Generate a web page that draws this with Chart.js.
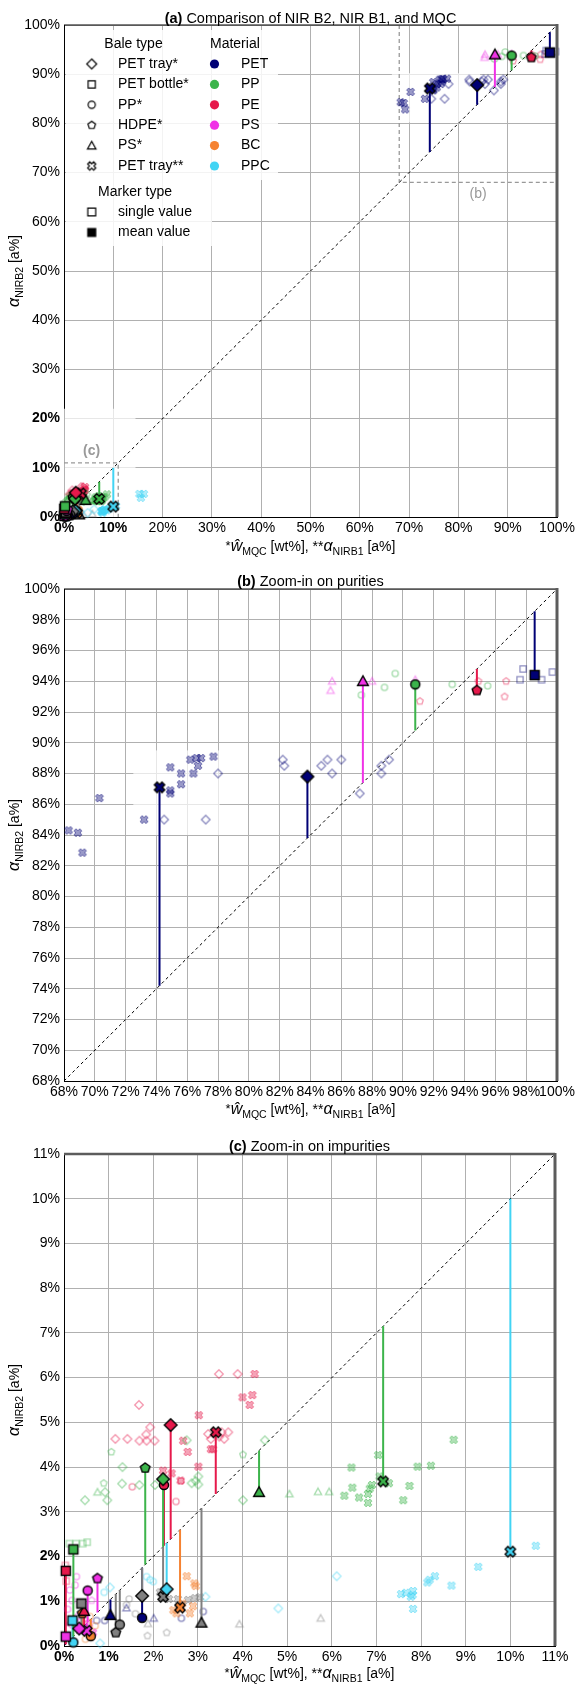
<!DOCTYPE html>
<html>
<head>
<meta charset="utf-8">
<script src="https://cdn.jsdelivr.net/npm/chart.js@4.4.1/dist/chart.umd.min.js"></script>
<style>
  html, body { margin: 0; padding: 0; background: #fff; }
  canvas { display: block; }
</style>
</head>
<body>
<canvas id="chartA" width="575" height="561"></canvas>
<canvas id="chartB" width="575" height="561"></canvas>
<canvas id="chartC" width="575" height="562"></canvas>
<script>
const FONT = '"Liberation Sans", Arial, Helvetica, sans-serif';
Chart.defaults.font.family = FONT;

// legend categories
const baleTypes = ['PET tray*', 'PET bottle*', 'PP*', 'HDPE*', 'PS*', 'PET tray**'];
const baleKeys = ['tray', 'bottle', 'pp', 'hdpe', 'ps', 'tray2'];
const baleShapes = ['diamond', 'square', 'circle', 'pentagon', 'triangle', 'xmark'];
const materials = ['PET', 'PP', 'PE', 'PS', 'BC', 'PPC'];
const materialColors = ['#000075', '#3cb44b', '#e6194b', '#f032e6', '#f58231', '#42d4f4'];
const otherColor = '#808080';

// single values [x, y] in %
const petTray2PET = [[68.3,84.3],[68.9,84.15],[69.2,82.85],[70.3,86.4],[73.2,85.0],[74.9,88.4],[74.9,86.7],[74.9,86.9],[75.6,87.3],[75.6,88.0],[76.4,88.0],[76.2,88.9],[76.6,89.0],[76.9,89.0],[76.7,88.5],[77.7,89.1]];
const petTrayPET = [[74.5,85.0],[77.2,85.0],[78.0,88.0],[82.2,88.9],[82.3,88.5],[84.7,88.5],[85.1,88.9],[85.4,88.0],[86.0,88.9],[87.2,86.7],[88.6,88.0],[88.6,88.5],[89.1,88.9]];
const petBottlePET = [[97.6,94.1],[97.8,94.8],[99.0,94.1],[99.7,94.6]];
const ppBalePP = [[87.3,93.1],[88.8,93.6],[89.5,94.5],[93.2,93.8],[95.5,93.7]];
const hdpeBalePE = [[91.1,92.7],[94.9,94.0],[96.7,94.0],[96.6,93.0]];
const psBalePS = [[85.4,94.0],[85.3,93.4],[88.0,94.0],[90.8,94.1]];

const petTrayPP = [[1.31,4.0],[1.30,3.63],[0.92,3.44],[0.47,3.26],[0.97,3.26],[1.69,3.6],[2.04,3.6],[2.75,4.6],[4.5,4.6],[3.01,3.79],[2.95,3.69],[2.86,3.64],[3.01,3.61],[4.01,3.26]];
const hdpeBalePP = [[1.06,4.34],[0.89,3.64],[4.01,4.28]];
const psBalePP = [[0.75,3.44],[5.05,3.40],[5.69,3.45],[5.94,3.45]];
const petTray2PP = [[6.44,3.99],[6.46,3.54],[6.28,3.36],[6.61,3.32],[6.81,3.40],[6.81,3.20],[6.85,3.52],[6.90,3.60],[7.04,4.27],[7.07,3.79],[7.28,3.64],[7.74,3.58],[7.60,3.26],[7.92,4.01],[8.22,4.03],[8.73,4.61]];
const petBottlePP = [[0.12,2.29],[0.27,2.29],[0.42,2.29],[0.52,2.32]];
const petTrayPE = [[1.68,5.39],[1.15,4.63],[1.42,4.63],[1.69,4.59],[1.85,4.59],[1.84,4.73],[1.93,4.89],[2.03,4.59],[3.47,6.08],[3.89,6.08],[3.23,4.74],[3.29,4.63],[3.53,4.78],[3.68,4.78],[3.59,4.63],[3.48,4.68]];
const petTray2PE = [[4.27,6.08],[4.0,5.56],[4.22,5.61],[4.16,5.39],[3.02,5.16],[2.67,4.59],[2.77,4.34],[3.29,4.40],[3.34,4.40],[3.01,4.01],[2.22,3.92],[2.41,3.86],[2.61,3.70]];
const ppBalePE = [[1.53,3.56],[2.62,3.69],[2.51,3.23]];
const petBottlePE = [[0.03,1.80],[0.05,1.45]];
const ppBalePS = [[0.25,1.36],[0.13,1.25],[0.28,1.55],[0.18,1.02],[0.08,0.82]];
const hdpeBalePS = [[0.62,1.02],[0.35,0.55]];
const petTrayPS = [[0.15,0.50],[0.30,0.65]];
const petTray2PS = [[0.55,0.50],[0.65,0.30]];
const petTray2BC = [[2.75,1.56],[2.92,1.40],[2.95,1.34],[2.82,0.73],[2.52,0.73],[2.89,0.89],[2.45,0.80],[2.65,0.95]];
const ppBaleBC = [[0.58,0.66],[0.70,0.45],[0.48,0.15]];
const hdpeBaleBC = [[0.45,0.50],[0.62,0.32]];
const petTray2PPC = [[7.55,1.16],[7.66,1.19],[7.77,1.10],[7.82,1.23],[7.81,1.14],[7.82,0.83],[8.14,1.42],[8.19,1.48],[8.31,1.56],[8.68,1.35],[9.28,1.77],[10.57,2.24],[15.3,4.7],[16.2,4.7],[15.6,3.9]];
const petTrayPPC = [[6.11,1.56],[4.80,0.84],[3.17,1.10],[1.03,1.31],[0.81,0.06]];
const ppBalePPC = [[1.85,1.55],[1.93,1.48],[2.0,1.44],[0.9,1.2]];
const ppBalePET = [[0.91,0.57],[0.73,0.57],[2.63,0.62],[3.12,0.77]];
const psBalePET = [[1.40,0.85],[2.01,0.62]];
const psBaleOther = [[5.75,0.62],[3.93,0.49],[1.88,0.50]];
const petTray2Other = [[2.78,1.03],[2.93,1.07],[3.04,1.09],[2.35,1.05],[2.55,1.05],[2.15,1.20]];
const ppBaleOther = [[1.46,1.05],[1.40,0.92],[1.60,0.72]];
const hdpeBaleOther = [[1.87,0.23],[2.30,0.30]];

const singleSeries = [
  ['PET','tray2',petTray2PET], ['PET','tray',petTrayPET], ['PET','bottle',petBottlePET],
  ['PP','pp',ppBalePP], ['PE','hdpe',hdpeBalePE], ['PS','ps',psBalePS],
  ['PP','tray',petTrayPP], ['PP','hdpe',hdpeBalePP], ['PP','ps',psBalePP], ['PP','tray2',petTray2PP], ['PP','bottle',petBottlePP],
  ['PE','tray',petTrayPE], ['PE','tray2',petTray2PE], ['PE','pp',ppBalePE], ['PE','bottle',petBottlePE],
  ['PS','pp',ppBalePS], ['PS','hdpe',hdpeBalePS], ['PS','tray',petTrayPS], ['PS','tray2',petTray2PS],
  ['BC','tray2',petTray2BC], ['BC','pp',ppBaleBC], ['BC','hdpe',hdpeBaleBC],
  ['PPC','tray2',petTray2PPC], ['PPC','tray',petTrayPPC], ['PPC','pp',ppBalePPC],
  ['PET','pp',ppBalePET], ['PET','ps',psBalePET],
  ['Other','ps',psBaleOther], ['Other','tray2',petTray2Other], ['Other','pp',ppBaleOther], ['Other','hdpe',hdpeBaleOther]
];

// mean values [material, bale, x, y]
const purityMeans = [
  ['PET','tray',83.8,87.8], ['PET','tray2',74.2,87.1], ['PET','bottle',98.55,94.4],
  ['PP','pp',90.8,93.8], ['PE','hdpe',94.8,93.4], ['PS','ps',87.4,94.0]
];
const impurityMeans = [
  ['PE','tray',2.39,4.94], ['PP','tray',2.22,3.73], ['PE','pp',2.24,3.60], ['PP','hdpe',1.82,3.98],
  ['PE','tray2',3.40,4.78], ['PP','ps',4.37,3.44], ['PP','tray2',7.15,3.68], ['PPC','tray2',10.0,2.11],
  ['PP','bottle',0.21,2.16], ['PE','bottle',0.04,1.68], ['PS','hdpe',0.75,1.51], ['PS','pp',0.53,1.24],
  ['Other','bottle',0.39,0.95], ['PE','ps',0.45,0.78], ['BC','hdpe',0.41,0.73], ['PPC','bottle',0.19,0.57],
  ['PS','tray',0.34,0.39], ['PS','tray2',0.51,0.34], ['BC','pp',0.60,0.22], ['PS','bottle',0.04,0.21],
  ['PPC','pp',0.21,0.08], ['PET','ps',1.04,0.69], ['Other','pp',1.25,0.48], ['Other','hdpe',1.16,0.30],
  ['Other','tray',1.75,1.12], ['PET','pp',1.75,0.63], ['PPC','tray',2.30,1.27], ['Other','tray2',2.22,1.10],
  ['BC','tray2',2.60,0.86], ['Other','ps',3.08,0.52]
];
const allMeans = purityMeans.concat(impurityMeans);

function colorOf(mat) { return mat === 'Other' ? otherColor : materialColors[materials.indexOf(mat)]; }
function shapeOf(bale) { return baleShapes[baleKeys.indexOf(bale)]; }
function hexA(hex, a) {
  const n = parseInt(hex.slice(1), 16);
  return `rgba(${n >> 16},${(n >> 8) & 255},${n & 255},${a})`;
}

function shapePath(g, shape, r, cx, cy) {
  g.beginPath();
  if (shape === 'circle') {
    g.arc(cx, cy, r * 0.72, 0, Math.PI * 2);
  } else if (shape === 'square') {
    const h = r * 0.72;
    g.rect(cx - h, cy - h, 2 * h, 2 * h);
  } else if (shape === 'diamond') {
    g.moveTo(cx, cy - r); g.lineTo(cx + r, cy); g.lineTo(cx, cy + r); g.lineTo(cx - r, cy);
    g.closePath();
  } else if (shape === 'triangle') {
    const h = r * 0.85;
    g.moveTo(cx, cy - h); g.lineTo(cx + h, cy + h * 0.8); g.lineTo(cx - h, cy + h * 0.8);
    g.closePath();
  } else if (shape === 'pentagon') {
    const h = r * 0.8;
    for (let k = 0; k < 5; k++) {
      const a = -Math.PI / 2 + k * 2 * Math.PI / 5;
      const px = cx + h * Math.cos(a), py = cy + h * Math.sin(a);
      if (k === 0) g.moveTo(px, py); else g.lineTo(px, py);
    }
    g.closePath();
  } else if (shape === 'xmark') {
    const h = r * 0.85, w = h * 0.36;
    const pts = [[w,-h],[w,-w],[h,-w],[h,w],[w,w],[w,h],[-w,h],[-w,w],[-h,w],[-h,-w],[-w,-w],[-w,-h]];
    const c = Math.SQRT1_2;
    pts.forEach(([px, py], k) => {
      const rx = cx + (px - py) * c, ry = cy + (px + py) * c;
      if (k === 0) g.moveTo(rx, ry); else g.lineTo(rx, ry);
    });
    g.closePath();
  }
}

const markCache = {};
function mark(shape, r, fill, stroke, lw) {
  const key = [shape, r, fill, stroke, lw].join('|');
  if (markCache[key]) return markCache[key];
  const s = Math.ceil(2 * r + 2 * lw + 2);
  const c = document.createElement('canvas');
  c.width = c.height = s;
  const g = c.getContext('2d');
  shapePath(g, shape, r, s / 2, s / 2);
  if (fill) { g.fillStyle = fill; g.fill(); }
  if (stroke) { g.strokeStyle = stroke; g.lineWidth = lw; g.stroke(); }
  markCache[key] = c;
  return c;
}
function fadedMark(shape, col) {
  if (shape === 'xmark') return mark(shape, 4.8, hexA(col, 0.4), hexA(col, 0.55), 1);
  return mark(shape, 4.3, null, hexA(col, 0.45), 1.3);
}
function meanMark(shape, col) { return mark(shape, 6.3, col, '#000', 1.4); }

function buildDatasets(lo, hi) {
  const ds = [{
    type: 'line', data: [{x: lo, y: lo}, {x: hi, y: hi}],
    borderColor: '#000', borderWidth: 1, borderDash: [3, 3], pointRadius: 0, order: 4
  }];
  singleSeries.forEach(([mat, bale, pts]) => {
    const img = fadedMark(shapeOf(bale), colorOf(mat));
    ds.push({
      type: 'scatter', data: pts.map(p => ({x: p[0], y: p[1]})),
      pointStyle: img, pointRadius: img.width / 2, clip: false, order: 3
    });
  });
  allMeans.forEach(([mat, bale, x, y]) => {
    ds.push({
      type: 'line', data: [{x: x, y: y}, {x: x, y: x}],
      borderColor: colorOf(mat), borderWidth: 2, pointRadius: 0, order: 2
    });
  });
  allMeans.forEach(([mat, bale, x, y]) => {
    const img = meanMark(shapeOf(bale), colorOf(mat));
    ds.push({
      type: 'scatter', data: [{x: x, y: y}],
      pointStyle: img, pointRadius: img.width / 2, clip: false, order: 1
    });
  });
  return ds;
}

function drawParts(ctx, parts, x, y) {
  let total = 0;
  parts.forEach(p => { ctx.font = p[1]; total += ctx.measureText(p[0]).width; });
  let cx = x - total / 2;
  ctx.textAlign = 'left';
  ctx.textBaseline = 'alphabetic';
  parts.forEach(p => {
    ctx.font = p[1];
    ctx.fillText(p[0], cx, y + (p[2] || 0));
    cx += ctx.measureText(p[0]).width;
  });
}

const f = (size, style) => (style ? style + ' ' : '') + size + 'px ' + FONT;
const xLabelParts = [
  ['*', f(13), -1], ['ŵ', f(16, 'italic')], ['MQC', f(10.5), 4], [' [wt%], **', f(14)],
  ['α', f(16, 'italic')], ['NIRB1', f(10.5), 4], [' [a%]', f(14)]
];
const yLabelParts = [['α', f(16, 'italic')], ['NIRB2', f(10.5), 4], [' [a%]', f(14)]];

function drawLegend(ctx) {
  ctx.save();
  ctx.fillStyle = 'rgba(255,255,255,0.85)';
  ctx.fillRect(66, 30, 212, 150);
  ctx.fillRect(66, 180, 146, 66);
  ctx.fillStyle = '#000';
  ctx.textBaseline = 'middle';
  ctx.font = f(14);
  ctx.textAlign = 'center';
  ctx.fillText('Bale type', 133.5, 44);
  ctx.fillText('Marker type', 135, 192);
  ctx.textAlign = 'left';
  ctx.fillText('Material', 210, 44);
  baleTypes.forEach((b, i) => {
    const y = 64 + i * 20.4;
    const img = mark(baleShapes[i], 5, null, '#000', 1.2);
    ctx.drawImage(img, 91.7 - img.width / 2, y - img.height / 2);
    ctx.fillText(b, 118, y);
  });
  materials.forEach((m, i) => {
    const y = 64 + i * 20.4;
    ctx.beginPath();
    ctx.arc(214.5, y, 4.6, 0, Math.PI * 2);
    ctx.fillStyle = materialColors[i];
    ctx.fill();
    ctx.fillStyle = '#000';
    ctx.fillText(m, 241, y);
  });
  const single = mark('square', 5.5, null, '#000', 1.2);
  const mean = mark('square', 5.5, '#000', '#000', 1.2);
  ctx.drawImage(single, 91.7 - single.width / 2, 212 - single.height / 2);
  ctx.fillText('single value', 118, 212);
  ctx.drawImage(mean, 91.7 - mean.width / 2, 232.5 - mean.height / 2);
  ctx.fillText('mean value', 118, 232.5);
  ctx.restore();
}

function panelPlugin(cfg) {
  return {
    id: 'panel' + cfg.tag,
    beforeDatasetsDraw(chart) {
      const {ctx, scales: {x, y}} = chart;
      ctx.save();
      (cfg.patches || []).forEach(p => {
        ctx.fillStyle = 'rgba(255,255,255,0.7)';
        const x0 = x.getPixelForValue(p[0]), x1 = x.getPixelForValue(p[2]);
        const y0 = y.getPixelForValue(p[3]), y1 = y.getPixelForValue(p[1]);
        ctx.fillRect(x0, y0, x1 - x0, y1 - y0);
      });
      if (cfg.insets) {
        ctx.strokeStyle = '#999';
        ctx.lineWidth = 1.3;
        ctx.setLineDash([4, 3]);
        ctx.beginPath();
        ctx.moveTo(x.getPixelForValue(68), y.getPixelForValue(100));
        ctx.lineTo(x.getPixelForValue(68), y.getPixelForValue(68));
        ctx.lineTo(x.getPixelForValue(100), y.getPixelForValue(68));
        ctx.moveTo(x.getPixelForValue(0), y.getPixelForValue(11));
        ctx.lineTo(x.getPixelForValue(11), y.getPixelForValue(11));
        ctx.lineTo(x.getPixelForValue(11), y.getPixelForValue(0));
        ctx.stroke();
        ctx.setLineDash([]);
        ctx.fillStyle = '#999';
        ctx.textAlign = 'center';
        ctx.textBaseline = 'middle';
        ctx.font = f(14);
        ctx.fillText('(b)', x.getPixelForValue(84), y.getPixelForValue(65.6));
        ctx.font = f(14, 'bold');
        ctx.fillText('(c)', x.getPixelForValue(5.6), y.getPixelForValue(13.4));
      }
      ctx.restore();
    },
    afterDatasetsDraw(chart) {
      const {ctx, chartArea: a} = chart;
      ctx.save();
      ctx.strokeStyle = cfg.topColor;
      ctx.lineWidth = cfg.topWidth;
      ctx.beginPath();
      ctx.moveTo(a.left, a.top); ctx.lineTo(a.right, a.top);
      ctx.stroke();
      ctx.strokeStyle = '#5c5c5c';
      ctx.lineWidth = 3;
      ctx.beginPath();
      ctx.moveTo(a.right, a.top - 1); ctx.lineTo(a.right, a.bottom);
      ctx.stroke();
      ctx.restore();
      if (cfg.legend) drawLegend(ctx);
    },
    afterDraw(chart) {
      const {ctx, chartArea: a} = chart;
      const cx = (a.left + a.right) / 2;
      ctx.save();
      ctx.fillStyle = '#000';
      drawParts(ctx, [[cfg.title[0], f(14.5, 'bold')], [cfg.title[1], f(14.5)]], cx, cfg.titleY);
      drawParts(ctx, xLabelParts, cx, cfg.xlabY);
      ctx.translate(19, (a.top + a.bottom) / 2);
      ctx.rotate(-Math.PI / 2);
      drawParts(ctx, yLabelParts, 0, 0);
      ctx.restore();
    }
  };
}

function makePanel(id, cfg) {
  const tickFont = bold => c => ({
    family: FONT, size: 14,
    weight: (c.tick && bold.includes(c.tick.value)) ? 'bold' : 'normal'
  });
  return new Chart(document.getElementById(id), {
    type: 'scatter',
    data: { datasets: buildDatasets(cfg.lo, cfg.hi) },
    options: {
      responsive: false,
      animation: false,
      events: [],
      layout: { padding: { top: cfg.padTop, right: cfg.padRight, left: 0, bottom: 0 } },
      plugins: { legend: { display: false }, tooltip: { enabled: false } },
      scales: {
        x: {
          type: 'linear', min: cfg.lo, max: cfg.hi,
          ticks: { stepSize: cfg.step, autoSkip: false, maxRotation: 0, padding: 3, color: '#000',
                   font: tickFont(cfg.boldX), callback: v => v + '%' },
          grid: { color: '#b0b0b0', lineWidth: 1, drawTicks: false },
          border: { color: '#000', width: 1 },
          afterFit: s => { s.height = cfg.xH; s.paddingLeft = 0; s.paddingRight = 0; }
        },
        y: {
          type: 'linear', min: cfg.lo, max: cfg.hi,
          ticks: { stepSize: cfg.step, autoSkip: false, padding: 4, color: '#000',
                   font: tickFont(cfg.boldY), callback: v => v + '%' },
          grid: { color: '#b0b0b0', lineWidth: 1, drawTicks: false },
          border: { color: '#000', width: 1 },
          afterFit: s => { s.width = 64; s.paddingTop = 0; s.paddingBottom = 0; }
        }
      }
    },
    plugins: [panelPlugin(cfg)]
  });
}

makePanel('chartA', {
  tag: 'A', lo: 0, hi: 100, step: 10, padTop: 25, padRight: 18, xH: 44,
  title: ['(a)', ' Comparison of NIR B2, NIR B1, and MQC'], titleY: 23, xlabY: 551,
  boldX: [0, 10], boldY: [0, 10, 20], legend: true, insets: true,
  topColor: '#000', topWidth: 1,
  patches: [[66.5, 80.2, 84.4, 90.2], [0, 0, 14.5, 22]]
});
makePanel('chartB', {
  tag: 'B', lo: 68, hi: 100, step: 2, padTop: 28, padRight: 18, xH: 41,
  title: ['(b)', ' Zoom-in on purities'], titleY: 25, xlabY: 553,
  boldX: [], boldY: [], topColor: '#000', topWidth: 1,
  patches: [[72.5, 84, 78.1, 89.5]]
});
makePanel('chartC', {
  tag: 'C', lo: 0, hi: 11, step: 1, padTop: 32, padRight: 20, xH: 38,
  title: ['(c)', ' Zoom-in on impurities'], titleY: 28.5, xlabY: 556,
  boldX: [0, 1], boldY: [0, 1, 2], topColor: '#5c5c5c', topWidth: 2.5
});
</script>
</body>
</html>
